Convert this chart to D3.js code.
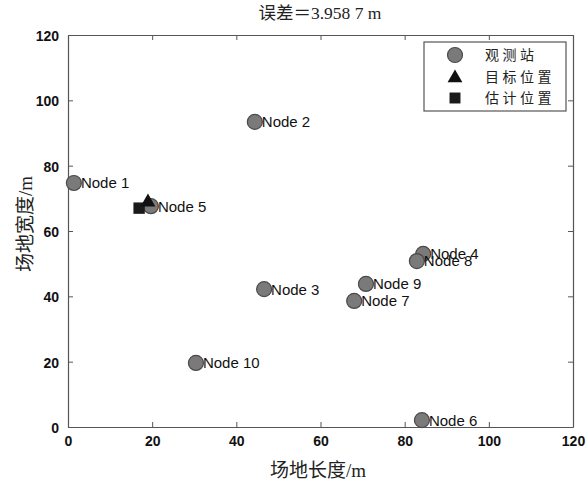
<!DOCTYPE html>
<html>
<head>
<meta charset="utf-8">
<script src="https://cdn.jsdelivr.net/npm/d3@7"></script>
<style>
  body { margin: 0; background: #fff; }
  svg { display: block; }
</style>
</head>
<body>
<svg id="chart"></svg>
<script>
const nodeNames = ['Node 1', 'Node 2', 'Node 3', 'Node 4', 'Node 5', 'Node 6', 'Node 7', 'Node 8', 'Node 9', 'Node 10']
const nodeX = [1.4, 44.4, 46.6, 84.4, 19.7, 84.1, 68.0, 82.9, 70.8, 30.4]
const nodeY = [74.7, 93.4, 42.2, 53.0, 67.6, 2.1, 38.6, 50.8, 43.8, 19.6]
const target = [19.0, 69.3]
const estimate = [16.9, 67.0]
const ticks = [0, 20, 40, 60, 80, 100, 120]
const legendLabels = ['观测站', '目标位置', '估计位置']
const titleText = '误差＝3.958 7 m'
const xLabel = '场地长度/m'
const yLabel = '场地宽度/m'

const width = 586, height = 483
const margin = { left: 68, right: 13, top: 35, bottom: 56 }

const svg = d3.select('#chart').attr('width', width).attr('height', height)

const x = d3.scaleLinear().domain([0, 120]).range([margin.left, width - margin.right])
const y = d3.scaleLinear().domain([0, 120]).range([height - margin.bottom, margin.top])

const axisColor = '#555'
const tickFont = '"Liberation Sans", Arial, sans-serif'

// inner ticks on all four sides
const axisBottomG = svg.append('g').attr('transform', `translate(0,${y(0)})`)
    .call(d3.axisBottom(x).tickValues(ticks).tickSizeInner(-5).tickSizeOuter(0).tickPadding(9))
const axisTopG = svg.append('g').attr('transform', `translate(0,${y(120)})`)
    .call(d3.axisTop(x).tickValues(ticks).tickSizeInner(-5).tickSizeOuter(0).tickFormat(''))
const axisLeftG = svg.append('g').attr('transform', `translate(${x(0)},0)`)
    .call(d3.axisLeft(y).tickValues(ticks).tickSizeInner(-5).tickSizeOuter(0).tickPadding(9))
const axisRightG = svg.append('g').attr('transform', `translate(${x(120)},0)`)
    .call(d3.axisRight(y).tickValues(ticks).tickSizeInner(-5).tickSizeOuter(0).tickFormat(''))

;[axisBottomG, axisTopG, axisLeftG, axisRightG].forEach(g => {
    g.select('.domain').attr('stroke', axisColor).attr('stroke-width', 1.2)
    g.selectAll('.tick line').attr('stroke', axisColor)
    g.selectAll('.tick text')
        .attr('fill', '#111')
        .attr('font-family', tickFont)
        .attr('font-size', 14)
        .attr('font-weight', 'bold')
})
axisLeftG.selectAll('.tick text').attr('dy', '0.4em')

// title and axis labels
const cjkFont = '"Liberation Serif", "Noto Sans CJK SC", serif'
svg.append('text')
    .attr('x', 320).attr('y', 19)
    .attr('text-anchor', 'middle')
    .attr('font-family', cjkFont)
    .attr('font-size', 17.5)
    .attr('fill', '#222')
    .text(titleText)

svg.append('text')
    .attr('x', 318).attr('y', 477)
    .attr('text-anchor', 'middle')
    .attr('font-family', cjkFont)
    .attr('font-size', 19)
    .attr('fill', '#222')
    .text(xLabel)

svg.append('text')
    .attr('transform', 'translate(32,224) rotate(-90)')
    .attr('text-anchor', 'middle')
    .attr('font-family', cjkFont)
    .attr('font-size', 19)
    .attr('fill', '#222')
    .text(yLabel)

// stations
const nodes = nodeNames.map((name, i) => ({ name, x: nodeX[i], y: nodeY[i] }))
const nodeG = svg.append('g')
nodes.forEach(d => {
    nodeG.append('circle')
        .attr('cx', x(d.x)).attr('cy', y(d.y)).attr('r', 7.5)
        .attr('fill', '#7a7a7a').attr('stroke', '#4a4a4a').attr('stroke-width', 1.2)
    nodeG.append('text')
        .attr('x', x(d.x) + 7).attr('y', y(d.y))
        .attr('dy', '0.36em')
        .attr('font-family', tickFont)
        .attr('font-size', 15)
        .attr('fill', '#111')
        .text(d.name)
})

// estimate (square) and target (triangle)
svg.append('path')
    .attr('transform', `translate(${x(estimate[0])},${y(estimate[1])})`)
    .attr('d', d3.symbol(d3.symbolSquare, 130)())
    .attr('fill', '#1a1a1a')
svg.append('path')
    .attr('transform', `translate(${x(target[0])},${y(target[1]) + 1.5})`)
    .attr('d', d3.symbol(d3.symbolTriangle, 95)())
    .attr('fill', '#111')

// legend
const legend = svg.append('g')
legend.append('rect')
    .attr('x', 424).attr('y', 42).attr('width', 142).attr('height', 69)
    .attr('fill', '#fff').attr('stroke', axisColor).attr('stroke-width', 1.2)

const legendRows = [55, 76.5, 98]
const legendSym = [
    g => g.append('circle').attr('r', 7.5).attr('fill', '#7a7a7a').attr('stroke', '#4a4a4a').attr('stroke-width', 1.2),
    g => g.append('path').attr('d', d3.symbol(d3.symbolTriangle, 95)()).attr('transform', 'translate(0,1.5)').attr('fill', '#111'),
    g => g.append('path').attr('d', d3.symbol(d3.symbolSquare, 120)()).attr('fill', '#1a1a1a')
]
legendLabels.forEach((label, i) => {
    const g = legend.append('g').attr('transform', `translate(455,${legendRows[i]})`)
    legendSym[i](g)
    legend.append('text')
        .attr('x', 485).attr('y', legendRows[i])
        .attr('dy', '0.36em')
        .attr('font-family', cjkFont)
        .attr('font-size', 14)
        .attr('letter-spacing', 3.5)
        .attr('fill', '#222')
        .text(label)
})
</script>
</body>
</html>
